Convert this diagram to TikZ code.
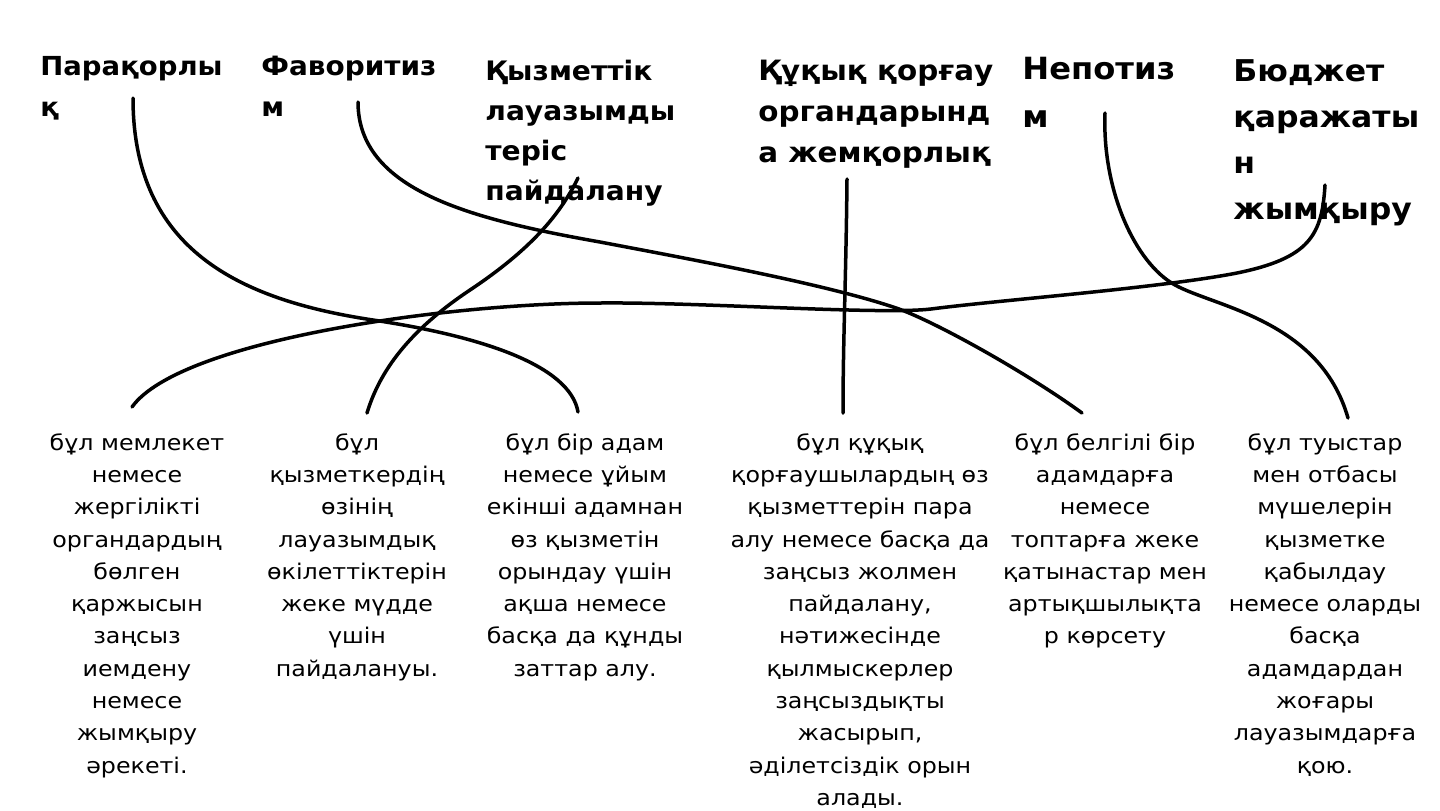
\documentclass[tikz,border=0pt]{standalone}
\usepackage{fontspec}
\setmainfont{DejaVu Sans}
\newfontfamily\bodyfont[FakeStretch=1.1]{DejaVu Sans}
\newfontfamily\headfont[FakeStretch=1.05]{DejaVu Sans}
\usetikzlibrary{positioning}

\begin{document}
\begin{tikzpicture}[
    x=0.5pt, y=-0.5pt,
    term/.style={anchor=north west, inner sep=0pt, align=left, font=\headfont\bfseries},
    defn/.style={anchor=north, inner sep=0pt, align=center, font=\bodyfont\fontsize{10.8}{16.15}\selectfont},
    link/.style={line width=1.75pt, line cap=round}
]
\useasboundingbox (0,0) rectangle (1440,810);

% Terms
\node[term, font=\headfont\bfseries\fontsize{13.1}{20.5}\selectfont] (term1) at (40,56) {Парақорлы\\қ};
\node[term, font=\headfont\bfseries\fontsize{13.3}{20.5}\selectfont] (term2) at (261,56) {Фаворитиз\\м};
\node[term, font=\headfont\bfseries\fontsize{13.4}{20}\selectfont] (term3) at (485,60) {Қызметтік\\лауазымды\\теріс\\пайдалану};
\node[term, font=\headfont\bfseries\fontsize{14}{20.5}\selectfont] (term4) at (758,60) {Құқық қорғау\\органдарынд\\а жемқорлық};
\node[term, font=\headfont\bfseries\fontsize{15.3}{24}\selectfont] (term5) at (1022,57) {Непотиз\\м};
\node[term, font=\headfont\bfseries\fontsize{15}{23}\selectfont] (term6) at (1233,59) {Бюджет\\қаражаты\\н\\жымқыру};

% Definitions
\node[defn] (def1) at (137,433) {бұл мемлекет\\немесе\\жергілікті\\органдардың\\бөлген\\қаржысын\\заңсыз\\иемдену\\немесе\\жымқыру\\әрекеті.};
\node[defn] (def2) at (357,433) {бұл\\қызметкердің\\өзінің\\лауазымдық\\өкілеттіктерін\\жеке мүдде\\үшін\\пайдалануы.};
\node[defn] (def3) at (585,433) {бұл бір адам\\немесе ұйым\\екінші адамнан\\өз қызметін\\орындау үшін\\ақша немесе\\басқа да құнды\\заттар алу.};
\node[defn] (def4) at (860,433) {бұл құқық\\қорғаушылардың өз\\қызметтерін пара\\алу немесе басқа да\\заңсыз жолмен\\пайдалану,\\нәтижесінде\\қылмыскерлер\\заңсыздықты\\жасырып,\\әділетсіздік орын\\алады.};
\node[defn] (def5) at (1105,433) {бұл белгілі бір\\адамдарға\\немесе\\топтарға жеке\\қатынастар мен\\артықшылықта\\р көрсету};
\node[defn] (def6) at (1325,433) {бұл туыстар\\мен отбасы\\мүшелерін\\қызметке\\қабылдау\\немесе оларды\\басқа\\адамдардан\\жоғары\\лауазымдарға\\қою.};

% Line ends
\coordinate (t1) at (133,98);
\coordinate (t2) at (358,102);
\coordinate (t3) at (578,178);
\coordinate (t4) at (847,179);
\coordinate (t5) at (1105,113);
\coordinate (t6) at (1325,185);
\coordinate (d1) at (132,407);
\coordinate (d2) at (367,413);
\coordinate (d3) at (578,412);
\coordinate (d4) at (843,413);
\coordinate (d5) at (1082,413);
\coordinate (d6) at (1348,418);

% Matching lines
\draw[link] (t1) .. controls (133,250) and (240,300) .. (373,320)
    .. controls (480,336) and (570,365) .. (d3);
\draw[link] (t2) .. controls (358,190) and (470,219) .. (600,242)
    .. controls (700,261) and (830,285) .. (899,309)
    .. controls (940,324) and (1030,375) .. (d5);
\draw[link] (t3) .. controls (560,215) and (530,250) .. (470,290)
    .. controls (410,330) and (380,370) .. (d2);
\draw[link] (t4) .. controls (846,280) and (843,340) .. (d4);
\draw[link] (t5) .. controls (1102,190) and (1135,263) .. (1175,285)
    .. controls (1215,307) and (1320,320) .. (d6);
\draw[link] (t6) .. controls (1322,235) and (1310,258) .. (1237,273)
    .. controls (1160,288) and (1000,300) .. (931,309)
    .. controls (880,315) and (700,302) .. (600,303)
    .. controls (450,303) and (180,340) .. (d1);

\end{tikzpicture}
\end{document}
